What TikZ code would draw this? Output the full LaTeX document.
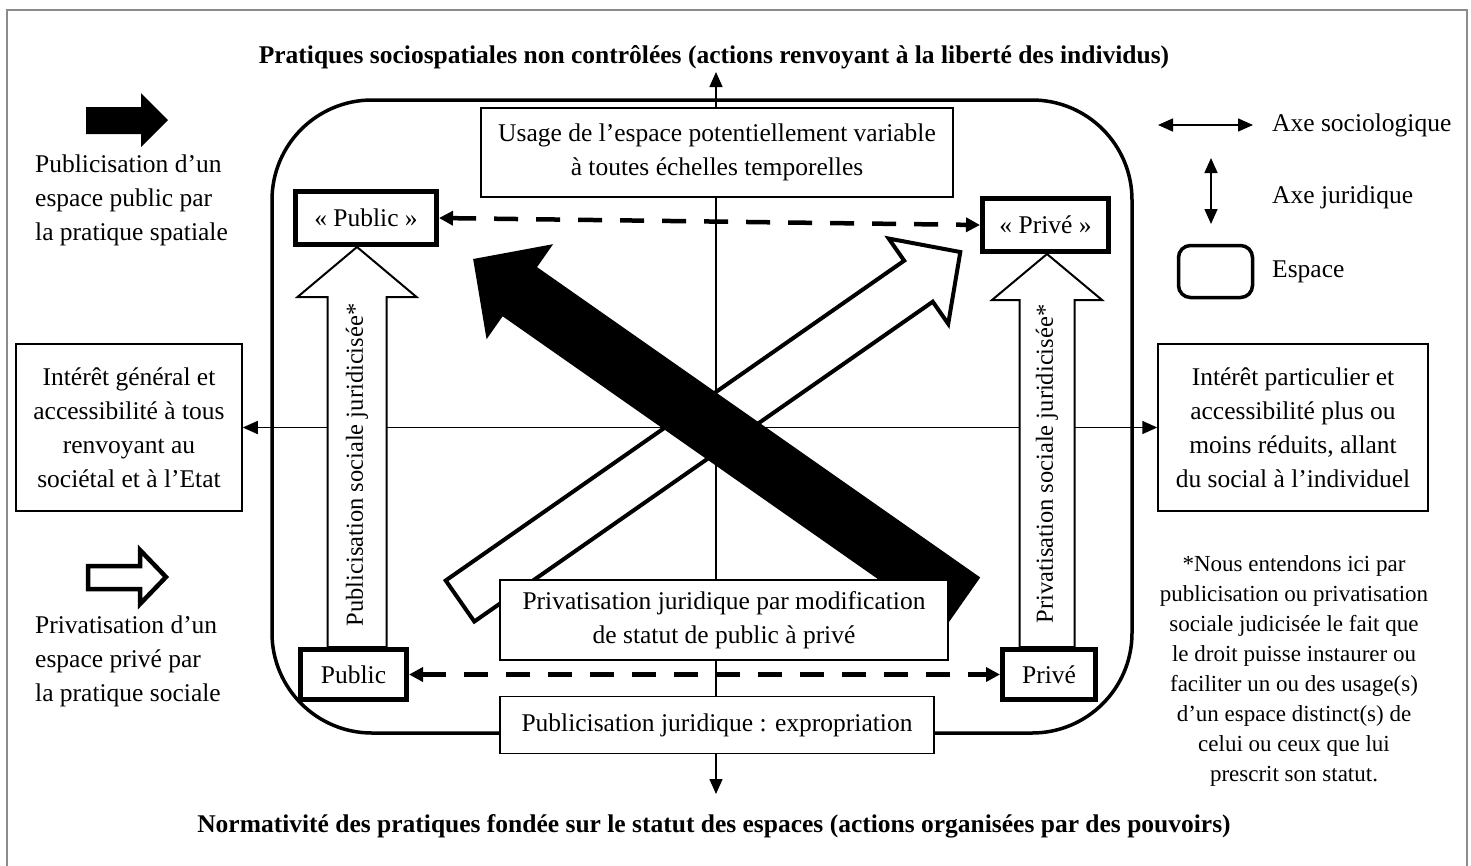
\documentclass[tikz,border=0pt]{standalone}
\usepackage{fontspec}
\setmainfont{Liberation Serif}
\usetikzlibrary{positioning,calc,arrows.meta}
\pgfdeclarelayer{fond}
\pgfsetlayers{fond,main}

\begin{document}
\begin{tikzpicture}[x=1pt, y=-1pt, font=\fontsize{25.5}{34}\selectfont,
  titre/.style={font=\fontsize{25.5}{34}\selectfont\bfseries, inner sep=0pt},
  boite/.style={draw, line width=1.5pt, fill=white, align=center, inner sep=0pt},
  espace/.style={draw, line width=5pt, fill=white, inner sep=0pt},
  axe/.style={line width=1.5pt, {Triangle[length=15pt, width=13pt]}-{Triangle[length=15pt, width=13pt]}},
  lien/.style={line width=4.5pt, dash pattern=on 24pt off 18pt, {Triangle[length=14pt, width=14pt]}-{Triangle[length=14pt, width=14pt]}},
  fleche/.style={draw, line width=2pt, fill=white, line join=miter},
  legende/.style={align=left, inner sep=0pt, anchor=west}]

\useasboundingbox (0,0) rectangle (1471,865);
\draw[black!45, line width=2pt] (7,10) rectangle (1467,880);

% TITRES

\node[titre, anchor=base] (pratiques) at (714,63) {Pratiques sociospatiales non contrôlées (actions renvoyant à la liberté des individus)};

\node[titre, anchor=base] (normativite) at (714,832) {Normativité des pratiques fondée sur le statut des espaces (actions organisées par des pouvoirs)};

% CADRE ET FLECHES CROISEES

\node[draw, line width=3.5pt, rounded corners=100pt, minimum width=860pt, minimum height=633pt] (cadre) at (702,416.5) {};

\begin{scope}[shift={(460,601)}, rotate=34.9]
\draw[fleche, line width=4pt] (0,-25) -- (559,-25) -- (559,-52) -- (610,0) -- (559,52) -- (559,25) -- (0,25) -- cycle;
\end{scope}

\begin{scope}[shift={(963,602)}, rotate=145]
\fill (0,-30) -- (541,-30) -- (541,-58) -- (598,0) -- (541,58) -- (541,30) -- (0,30) -- cycle;
\end{scope}

% BOITES

\node[boite, minimum width=472pt, minimum height=89pt] (usage) at (717,152.5) {Usage de l’espace potentiellement variable\\à toutes échelles temporelles};

\node[boite, minimum width=226pt, minimum height=167pt] (interetgen) at (129,427.5) {Intérêt général et\\accessibilité à tous\\renvoyant au\\sociétal et à l’Etat};

\node[boite, minimum width=270pt, minimum height=167pt] (interetpart) at (1293,427.5) {Intérêt particulier et\\accessibilité plus ou\\moins réduits, allant\\du social à l’individuel};

\node[boite, minimum width=448pt, minimum height=80pt] (privjur) at (724,620) {Privatisation juridique par modification\\de statut de public à privé};

\node[boite, minimum width=434pt, minimum height=57pt] (exprop) at (717,725) {Publicisation juridique : expropriation};

\node[espace, minimum width=141pt, minimum height=53pt] (pubtop) at (366,218) {«~Public~»};
\node[espace, minimum width=126pt, minimum height=53pt] (privtop) at (1045.5,225) {«~Privé~»};
\node[espace, minimum width=106pt, minimum height=50pt] (pubbot) at (353.5,674.5) {Public};
\node[espace, minimum width=93pt, minimum height=50pt] (privbot) at (1049,674.5) {Privé};

% AXES

\begin{pgfonlayer}{fond}
\coordinate (nord) at (716,72);
\coordinate (sud) at (716,794);
\draw[axe] (sud) -- (nord);
\draw[axe] (interetgen.east) -- (interetpart.west);
\end{pgfonlayer}

% FLECHES VERTICALES

\coordinate (pubpointe) at (357,0 |- pubtop.south);
\coordinate (pubpied) at (357,0 |- pubbot.north);
\draw[fleche] ($(pubpied)+(-29.5,0)$) -- ($(pubpointe)+(-29.5,50)$) -- ($(pubpointe)+(-59.5,50)$) -- (pubpointe) -- ($(pubpointe)+(59.5,50)$) -- ($(pubpointe)+(29.5,50)$) -- ($(pubpied)+(29.5,0)$) -- cycle;
\node[rotate=90, font=\fontsize{24.5}{30}\selectfont] (pubtexte) at (357,465) {Publicisation sociale juridicisée*};

\coordinate (privpointe) at (1047,0 |- privtop.south);
\coordinate (privpied) at (1047,0 |- privbot.north);
\draw[fleche] ($(privpied)+(-27.5,0)$) -- ($(privpointe)+(-27.5,46)$) -- ($(privpointe)+(-55,46)$) -- (privpointe) -- ($(privpointe)+(55,46)$) -- ($(privpointe)+(27.5,46)$) -- ($(privpied)+(27.5,0)$) -- cycle;
\node[rotate=90, font=\fontsize{24.5}{30}\selectfont] (privtexte) at (1047,464) {Privatisation sociale juridicisée*};

\draw[lien] (pubtop.east) -- (privtop.west);
\draw[lien] (pubbot.east) -- (privbot.west);

% LEGENDE GAUCHE

\fill (86,107) -- (141,107) -- (141,93) -- (168,120) -- (141,147) -- (141,134) -- (86,134) -- cycle;
\node[legende] (publeg) at (35,200.5) {Publicisation d’un\\espace public par\\la pratique spatiale};

\draw[line width=4.5pt, line join=miter, fill=white] (88,566) -- (140,566) -- (140,550) -- (166,577) -- (140,604) -- (140,589) -- (88,589) -- cycle;
\node[legende] (privleg) at (35,661.5) {Privatisation d’un\\espace privé par\\la pratique sociale};

% LEGENDE DROITE

\node[legende] (axesocio) at (1272,125) {Axe sociologique};
\coordinate (socioA) at (1158,125);
\coordinate (socioB) at (1253,125);
\draw[axe] (socioA) -- (socioB);

\node[legende] (axejur) at (1272,197) {Axe juridique};
\coordinate (jurA) at (1211,158);
\coordinate (jurB) at (1211,224);
\draw[axe] (jurA) -- (jurB);

\node[draw, line width=3.5pt, rounded corners=12pt, minimum width=74pt, minimum height=52pt] (boiteleg) at (1215.5,271.5) {};
\node[legende] (espleg) at (1272,272) {Espace};

\node[align=center, font=\fontsize{23}{30}\selectfont] (note) at (1294,671) {*Nous entendons ici par\\publicisation ou privatisation\\sociale judicisée le fait que\\le droit puisse instaurer ou\\faciliter un ou des usage(s)\\d’un espace distinct(s) de\\celui ou ceux que lui\\prescrit son statut.};

\end{tikzpicture}
\end{document}
